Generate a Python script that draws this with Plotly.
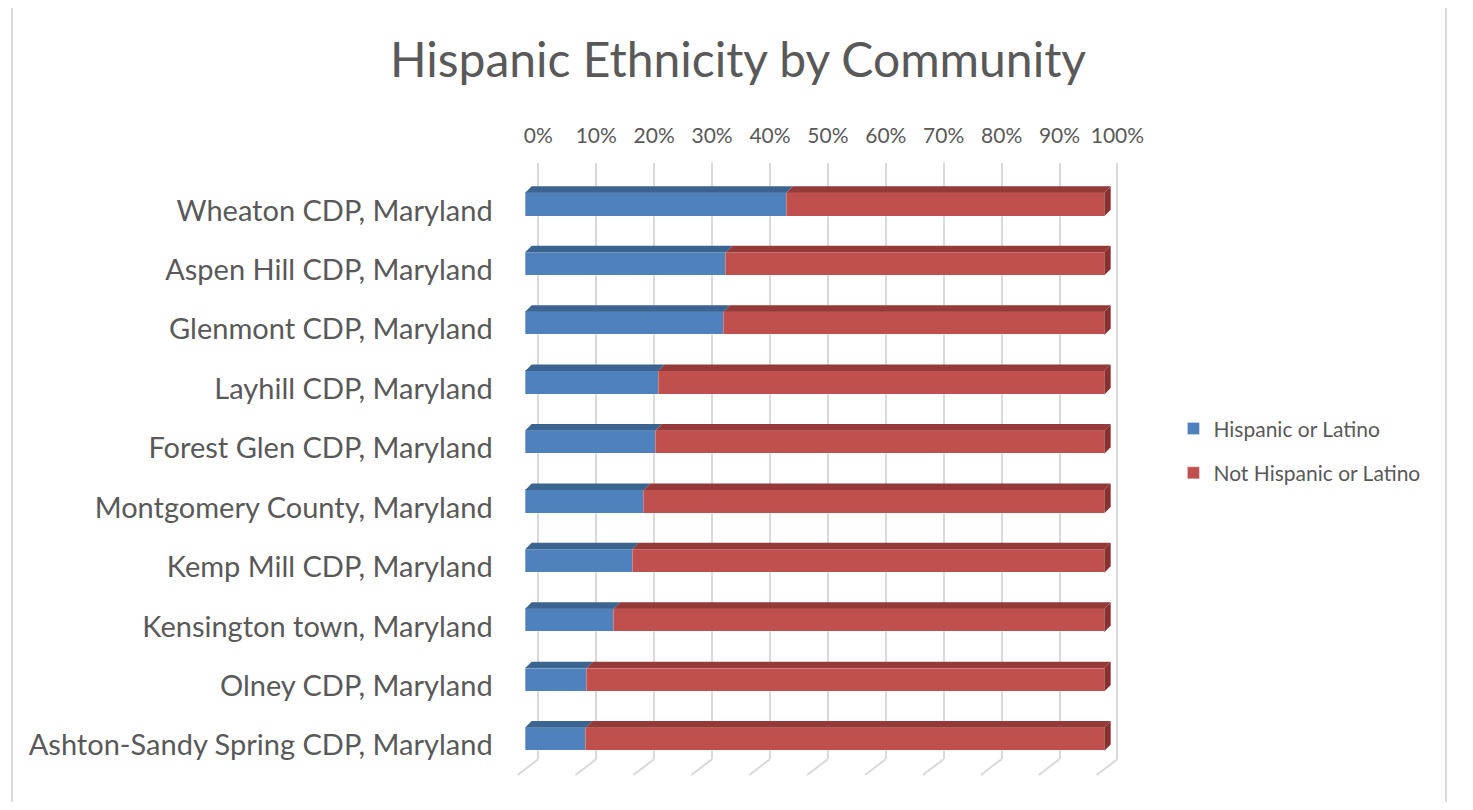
import plotly.graph_objects as go

# ---------------- data ----------------
communities = [
    "Wheaton CDP, Maryland",
    "Aspen Hill CDP, Maryland",
    "Glenmont CDP, Maryland",
    "Layhill CDP, Maryland",
    "Forest Glen CDP, Maryland",
    "Montgomery County, Maryland",
    "Kemp Mill CDP, Maryland",
    "Kensington town, Maryland",
    "Olney CDP, Maryland",
    "Ashton-Sandy Spring CDP, Maryland",
]
hispanic_pct = [45.1, 34.7, 34.3, 23.0, 22.5, 20.5, 18.5, 15.3, 10.6, 10.5]
not_hispanic_pct = [100 - v for v in hispanic_pct]
tick_values = [0, 10, 20, 30, 40, 50, 60, 70, 80, 90, 100]
tick_labels = [f"{v}%" for v in tick_values]
series_names = ["Hispanic or Latino", "Not Hispanic or Latino"]

# ---------------- styling / geometry ----------------
PAGE_MARGIN = 8                      # default body margin of the html page
W = 1457
H = 794
FONT = "Lato"
TXT = "#595959"
GRID = "#d9d9d9"
BLUE, RED = "#4f81bd", "#c0504d"
BLUE_TOP, RED_TOP, RED_SIDE = "#3c6491", "#943a38", "#8a3130"


def px(x):   # page px -> paper x
    return (x - PAGE_MARGIN) / W


def py(y):   # page px -> paper y
    return 1 - (y - PAGE_MARGIN) / H


X0_FRONT = 531.7      # page px of 0% on bar front faces
X0_BACK = 545.0       # page px of 0% on back wall (gridlines)
XS = 5.863            # px per percent
DOM_X = (520, 1140)   # page px
DOM_Y = (163, 761)    # page px (top, bottom)
Y0 = 205.0            # page px centre of first bar front face
YS = 59.56            # px per category
BAR_W = 0.393         # category units
DEPTH_PX = 6.5

dxu = DEPTH_PX / XS
dyu = DEPTH_PX / YS

n = len(communities)
ypos = list(range(n))

fig = go.Figure()

fig.add_trace(go.Bar(
    y=ypos, x=hispanic_pct, orientation="h", name=series_names[0],
    marker=dict(color=BLUE, line=dict(color="rgba(255,255,255,0.5)", width=0.6)),
    width=BAR_W, legendgroup="a", hoverinfo="x+name",
))
fig.add_trace(go.Bar(
    y=ypos, x=not_hispanic_pct, orientation="h", name=series_names[1],
    marker=dict(color=RED, line=dict(color="rgba(255,255,255,0.5)", width=0.6)),
    width=BAR_W, legendgroup="b", hoverinfo="x+name",
))


def top_faces(starts, ends):
    xs, ys = [], []
    for i, (a, b) in enumerate(zip(starts, ends)):
        yt = i - BAR_W / 2
        xs += [a, b, b + dxu, a + dxu, a, None]
        ys += [yt, yt, yt - dyu, yt - dyu, yt, None]
    return xs, ys


bx, by = top_faces([0] * n, hispanic_pct)
rx, ry = top_faces(hispanic_pct, [h + r for h, r in zip(hispanic_pct, not_hispanic_pct)])
sx, sy = [], []
for i, (h, r) in enumerate(zip(hispanic_pct, not_hispanic_pct)):
    e = h + r
    yt, yb = i - BAR_W / 2, i + BAR_W / 2
    sx += [e, e + dxu, e + dxu, e, e, None]
    sy += [yt, yt - dyu, yb - dyu, yb, yt, None]

for xs, ys, col in [(bx, by, BLUE_TOP), (rx, ry, RED_TOP), (sx, sy, RED_SIDE)]:
    fig.add_trace(go.Scatter(
        x=xs, y=ys, mode="lines", fill="toself", fillcolor=col,
        line=dict(width=0, color=col), showlegend=False, hoverinfo="skip",
    ))

# floor lines (diagonals at bottom of gridlines)
shapes = []
for v in tick_values:
    shapes.append(dict(
        type="line", xref="x2", yref="paper",
        x0=v, y0=py(DOM_Y[1]), x1=v - 21 / XS, y1=py(777),
        line=dict(color=GRID, width=2), layer="below",
    ))
# chart border
shapes.append(dict(
    type="rect", xref="paper", yref="paper",
    x0=px(12), y0=py(830), x1=px(1464), y1=py(5),
    line=dict(color=GRID, width=2), layer="below",
))

fig.update_layout(
    width=W, height=H,
    autosize=False,
    margin=dict(l=0, r=0, t=0, b=0),
    paper_bgcolor="white", plot_bgcolor="rgba(0,0,0,0)",
    barmode="stack", bargap=0,
    font=dict(family=FONT, color=TXT),
    title=dict(
        text="Hispanic Ethnicity by Community",
        x=px(738), xanchor="center", y=py(60), yanchor="middle",
        font=dict(family=FONT, size=48, color=TXT),
    ),
    xaxis=dict(
        domain=[px(DOM_X[0]), px(DOM_X[1])],
        range=[(DOM_X[0] - X0_FRONT) / XS, (DOM_X[1] - X0_FRONT) / XS],
        visible=False, showgrid=False, zeroline=False, fixedrange=True,
    ),
    xaxis2=dict(
        overlaying="x", anchor="y", side="top",
        range=[(DOM_X[0] - X0_BACK) / XS, (DOM_X[1] - X0_BACK) / XS],
        tickvals=tick_values, ticktext=tick_labels,
        showgrid=True, gridcolor=GRID, gridwidth=2,
        zeroline=False, showline=False, ticks="",
        tickfont=dict(family=FONT, size=21, color=TXT),
        ticklabelstandoff=14, fixedrange=True,
    ),
    yaxis=dict(
        domain=[py(DOM_Y[1]), py(DOM_Y[0])],
        range=[(DOM_Y[1] - Y0) / YS, (DOM_Y[0] - Y0) / YS],
        tickvals=[p + 6 / YS for p in ypos], ticktext=communities,
        showgrid=False, zeroline=False, showline=False, ticks="",
        tickfont=dict(family=FONT, size=29, color=TXT),
        ticklabelstandoff=20, fixedrange=True,
    ),
    legend=dict(
        x=px(1188), xanchor="left", y=py(452), yanchor="middle",
        font=dict(family=FONT, size=21, color=TXT),
        bgcolor="rgba(0,0,0,0)", tracegroupgap=14, traceorder="grouped",
    ),
    shapes=shapes,
)

# invisible trace hosting the gridline / tick axis
fig.add_trace(go.Scatter(x=[0], y=[0], xaxis="x2", yaxis="y", mode="markers",
                         marker=dict(opacity=0), showlegend=False, hoverinfo="skip"))

fig.write_html("out.html", config={"responsive": False})
